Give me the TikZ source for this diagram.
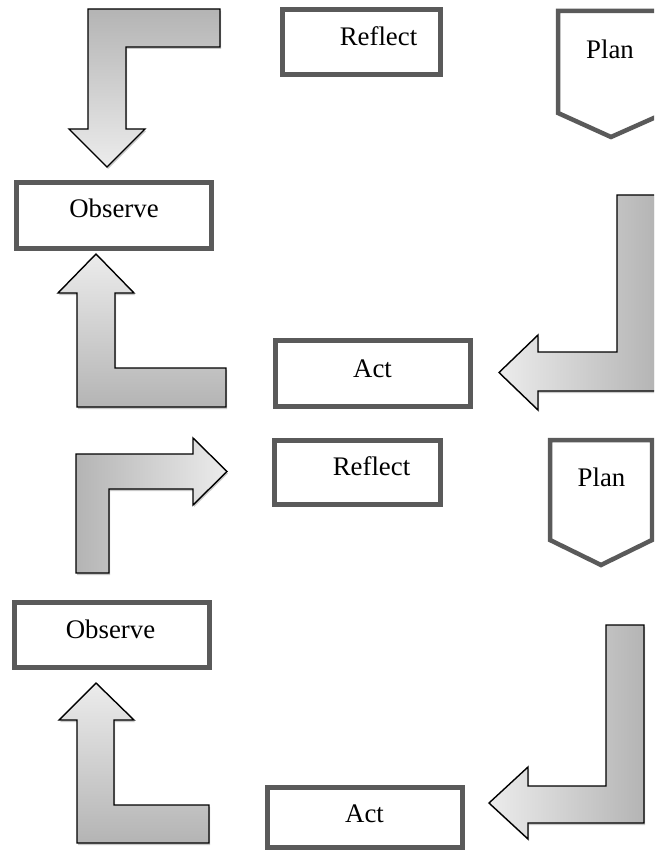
\documentclass[tikz,border=0pt]{standalone}
\usepackage{fontspec}
\setmainfont{Liberation Serif}
\usetikzlibrary{shadows}
\definecolor{boxgray}{HTML}{5A5A5A}
\definecolor{arrdark}{HTML}{B4B4B4}
\definecolor{arrlight}{HTML}{ECECEC}
\tikzset{
  box/.style={draw=boxgray, line width=5pt, fill=white, rectangle, inner sep=0pt},
  lbl/.style={anchor=base, inner sep=0pt, font=\fontsize{26.8}{32}\selectfont},
  planbox/.style={draw=boxgray, line width=4.5pt, fill=white, line join=miter},
  bentarrow/.style={draw=black, line width=1.4pt, line join=miter,
    drop shadow={shadow xshift=1pt, shadow yshift=-2pt, fill=gray!70, opacity=0.6}},
  vdown/.style={bentarrow, top color=arrdark, bottom color=arrlight},
  vup/.style={bentarrow, top color=arrlight, bottom color=arrdark},
  hright/.style={bentarrow, left color=arrdark, right color=arrlight},
  hleft/.style={bentarrow, left color=arrlight, right color=arrdark}
}
\begin{document}
\begin{tikzpicture}[x=1pt, y=-1pt]
\clip (0,0) rectangle (654,850);
\fill[white] (0,0) rectangle (654,850);

% ---------- first cycle ----------
% arrow top-left, bent down
\path[vdown] (88,9) -- (220,9) -- (220,47) -- (126,47) -- (126,129) -- (145,129)
  -- (107,167) -- (69,129) -- (88,129) -- cycle;
% arrow up to Observe
\path[vup] (96,254) -- (134,293) -- (115,293) -- (115,368) -- (226,368) -- (226,407)
  -- (77,407) -- (77,293) -- (58,293) -- cycle;
% arrow right, bent left
\path[hleft] (617,195) -- (657,195) -- (657,391) -- (538,391) -- (538,410)
  -- (499,372.5) -- (538,335) -- (538,352) -- (617,352) -- cycle;

\node[box, minimum width=158pt, minimum height=64.5pt] (reflA) at (361,42.25) {};
\node[lbl] (reflAt) at (378.5,46) {Reflect};
\node[box, minimum width=195.5pt, minimum height=66pt] (actA) at (372.75,373.5) {};
\node[lbl] (actAt) at (372.5,377) {Act};
\node[box, minimum width=195pt, minimum height=65pt] (obsA) at (114,215.5) {};
\node[lbl] (obsAt) at (114,218) {Observe};
\path[planbox] (558,11) -- (665,11) -- (665,113) -- (611,137) -- (558,113) -- cycle;
\node[lbl] (planAt) at (610,59) {Plan};

% ---------- second cycle ----------
% arrow bent right
\path[hright] (76,573) -- (76,454) -- (193,454) -- (193,438) -- (227,471.5)
  -- (193,505) -- (193,489) -- (109,489) -- (109,573) -- cycle;
% arrow up to Observe
\path[vup] (96,683) -- (134,720) -- (114,720) -- (114,805) -- (209,805) -- (209,843)
  -- (77,843) -- (77,720) -- (59,720) -- cycle;
% arrow right, bent left
\path[hleft] (606,625) -- (644,625) -- (644,823) -- (528,823) -- (528,839)
  -- (489,803) -- (528,767) -- (528,786) -- (606,786) -- cycle;

\node[box, minimum width=165.5pt, minimum height=64.5pt] (reflB) at (357.25,472.25) {};
\node[lbl] (reflBt) at (371.5,475) {Reflect};
\node[box, minimum width=195.5pt, minimum height=65pt] (obsB) at (111.75,634.5) {};
\node[lbl] (obsBt) at (110.5,638) {Observe};
\node[box, minimum width=195pt, minimum height=60pt] (actB) at (364.5,817) {};
\node[lbl] (actBt) at (364.5,822) {Act};
\path[planbox] (550,440) -- (652,440) -- (652,540) -- (601,565) -- (550,540) -- cycle;
\node[lbl] (planBt) at (601.5,486) {Plan};
\end{tikzpicture}
\end{document}
